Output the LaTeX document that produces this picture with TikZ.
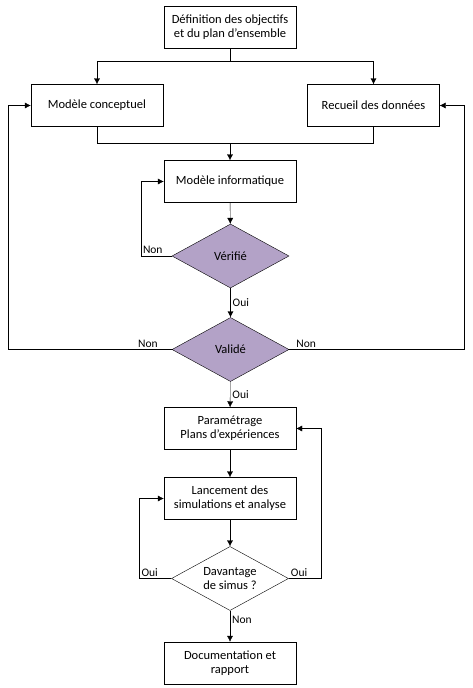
\documentclass[tikz,border=0pt]{standalone}
\usepackage{fontspec}
\setmainfont{Carlito}
\usetikzlibrary{shapes.geometric,arrows.meta}
\definecolor{lavande}{HTML}{B3A2C7}
\tikzset{
   box/.style = {draw, thin, minimum width=132pt, minimum height=42pt, align=center, inner sep=2pt, font=\fontsize{12.5}{14}\selectfont},
   decision/.style = {draw, thin, diamond, aspect=1.83, minimum width=117pt, minimum height=64pt, inner sep=0pt, align=center, font=\fontsize{12.5}{14}\selectfont},
   arr/.style = {-{Latex[length=6pt,width=6pt]}, thin},
   lbl/.style = {font=\fontsize{11.5}{12}\selectfont, inner sep=2pt}
}
\begin{document}
\begin{tikzpicture}[x=1pt, y=-1pt]

		\useasboundingbox (0,0) rectangle (472,688);

		% Boxes
		\node[box] (def) at (230,27) {Définition des objectifs\\et du plan d’ensemble};
		\node[box] (concept) at (97,105.5) {Modèle conceptuel};
		\node[box] (recueil) at (373.5,105.5) {Recueil des données};
		\node[box] (info) at (230,181.5) {Modèle informatique};
		\node[box] (param) at (230,428.5) {Paramétrage\\Plans d’expériences};
		\node[box] (lance) at (230,498.5) {Lancement des\\simulations et analyse};
		\node[box] (doc) at (230,663) {Documentation et\\rapport};

		% Diamonds
		\node[decision, fill=lavande] (verif) at (230.5,256) {Vérifié};
		\node[decision, fill=lavande] (valid) at (230.5,349.5) {Validé};
		\node[decision, fill=white] (davant) at (230,578.5) {Davantage\\de simus ?};

		% Split and join
		\coordinate (split) at (230,61);
		\coordinate (join) at (230,143);
		\draw (def.south) -- (split);
		\draw[arr] (split) -| (concept.north);
		\draw[arr] (split) -| (recueil.north);
		\draw (concept.south) |- (join);
		\draw (recueil.south) |- (join);
		\draw[arr] (join) -- (info.north);

		% Verification
		\draw[arr] (info) -- (verif);
		\draw[arr] (verif.west) -- ++(-31,0) node[lbl, above right] {Non} |- (info.west);
		\draw[arr] (verif) -- node[lbl, right] {Oui} (valid);

		% Validation
		\draw[arr] (valid.west) node[lbl, above left, xshift=-12pt] {Non} -- (8,349.5) |- (concept.west);
		\draw[arr] (valid.east) node[lbl, above right, xshift=5pt] {Non} -- (464,349.5) |- (recueil.east);
		\draw[arr] (valid) -- node[lbl, right] {Oui} (param);

		% Simulations
		\draw[arr] (param) -- (lance);
		\draw[arr] (lance) -- (davant);
		\draw[arr] (davant.west) -- ++(-32,0) node[lbl, above right] {Oui} |- (lance.west);
		\draw[arr] (davant.east) node[lbl, above right] {Oui} -- ++(32,0) |- (param.east);
		\draw[arr] (davant) -- node[lbl, right, pos=0.3] {Non} (doc);

	\end{tikzpicture}
\end{document}
